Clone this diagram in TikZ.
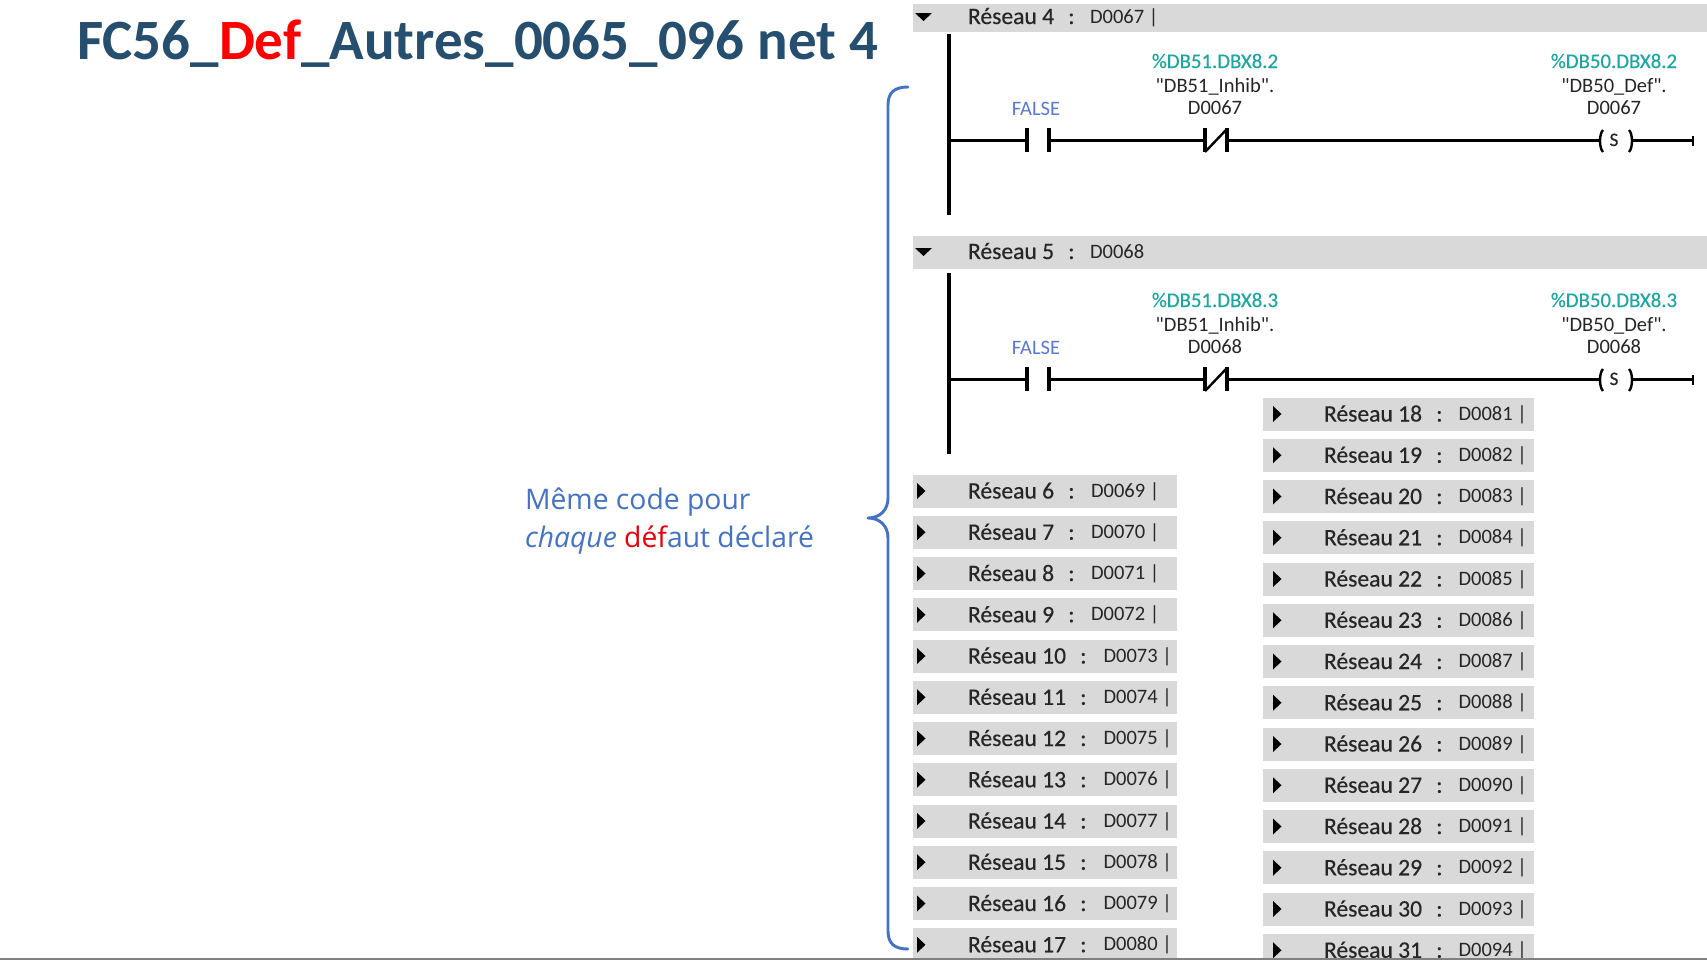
\documentclass[tikz,border=0pt]{standalone}
\usepackage{fontspec}
\setmainfont{Carlito}
\newfontfamily\opensansf{Open Sans}
\newfontfamily\carl{Carlito}
\newfontfamily\carlb[FakeBold=0.35]{Carlito}
\newcommand{\setpx}[1]{\pgfmathsetmacro{\ptsz}{#1*0.75}\fontsize{\ptsz pt}{\ptsz pt}\selectfont}
\definecolor{titleblue}{HTML}{264E6E}
\definecolor{annot}{HTML}{4472C4}
\definecolor{hdr}{HTML}{D9D9D9}
\definecolor{teal1}{HTML}{1CA8A0}
\definecolor{falseblue}{HTML}{5B78D8}
\definecolor{inktxt}{HTML}{262626}
\definecolor{defred}{HTML}{E8000B}
\tikzset{
 x=0.75pt,y=-0.75pt,
 txt/.style={inner sep=0pt,outer sep=0pt,text=inktxt},
 lbl/.style={txt,anchor=base west,font=\carlb\setpx{23.6}},
 codet/.style={txt,anchor=base west,font=\carl\setpx{20.5}},
 opnd/.style={txt,anchor=base,font=\carl\setpx{20.5}},
 addr/.style={txt,anchor=base,font=\carlb\setpx{20.8},text=teal1},
 wire/.style={draw=black,line width=2.3pt,line cap=butt},
 thinwire/.style={draw=black,line width=1.8pt,line cap=butt},
 tri/.style={fill=black,draw=none},
 brace/.style={draw=annot,line width=2.2pt,line cap=round,line join=round},
}
\newcommand{\colongap}{\hspace{0.6em}:}
\begin{document}
\begin{tikzpicture}
\useasboundingbox (0,0) rectangle (1707,960);
\fill[white] (0,0) rectangle (1707,960);

% title
\node[txt,anchor=base west,font=\setpx{57}\bfseries,text=titleblue] (title) at (77,59)
 {FC56\_\textcolor{red}{Def}\_Autres\_0065\_096 net 4};

% annotation
\node[txt,anchor=base west,font=\opensansf\setpx{28.3},text=annot] (ann1) at (525,509) {Même code pour};
\node[txt,anchor=base west,font=\opensansf\setpx{28.3},text=annot] (ann2) at (525,547)
 {\textit{chaque} \textcolor{defred}{déf}aut déclaré};

% brace
\draw[brace] (908,87) .. controls (895,87) and (888,92) .. (888,105) -- (888,498)
  .. controls (888,510) and (880,518) .. (868,518)
  .. controls (880,518) and (888,526) .. (888,538) -- (888,931)
  .. controls (888,944) and (895,949) .. (908,949);

% open networks: headers
\fill[hdr] (913,4) rectangle (1707,32);
\fill[hdr] (913,236) rectangle (1707,269);
\fill[tri] (915,13) -- (932,13) -- (923.5,21) -- cycle;
\fill[tri] (915,248) -- (932,248) -- (923.5,256) -- cycle;
\node[lbl] (h4) at (968,24) {Réseau 4\colongap};
\node[codet] (c4) at (1090,23) {D0067 |};
\node[lbl] (h5) at (968,259) {Réseau 5\colongap};
\node[codet] (c5) at (1090,258) {D0068};

% ladder rungs
\foreach \nm/\dy/\dd/\cd in {a/0/2/D0067,b/239/3/D0068}{
 \begin{scope}[yshift={-\dy*0.75pt}]
  \draw[wire] (949,34) -- (949,215);
  \draw[wire] (949,140.7) -- (1027,140.7);
  \draw[wire] (1027,128) -- (1027,152);
  \draw[wire] (1049,128) -- (1049,152);
  \draw[wire] (1049,140.7) -- (1205,140.7);
  \draw[wire] (1205,128) -- (1205,152);
  \draw[wire] (1227,128) -- (1227,152);
  \draw[thinwire] (1205,152) -- (1227,129);
  \draw[wire] (1227,140.7) -- (1600,140.7);
  \draw[thinwire] (1603,130) .. controls (1599,134) and (1599,148) .. (1603,152);
  \draw[thinwire] (1629,130) .. controls (1633,134) and (1633,148) .. (1629,152);
  \draw[wire] (1632,140.7) -- (1693,140.7);
  \draw[thinwire] (1693,136) -- (1693,145.5);
  \node[opnd,font=\carlb\setpx{19}] (s\nm) at (1614,146) {S};
  \node[opnd,text=falseblue] (f\nm) at (1036,115) {FALSE};
  \node[addr] (x\nm) at (1215,68) {\%DB51.DBX8.\dd};
  \node[opnd] (y\nm) at (1215,92) {"DB51\_Inhib".};
  \node[opnd] (z\nm) at (1215,114) {\cd};
  \node[addr] (u\nm) at (1614,68) {\%DB50.DBX8.\dd};
  \node[opnd] (v\nm) at (1614,92) {"DB50\_Def".};
  \node[opnd] (w\nm) at (1614,114) {\cd};
 \end{scope}
}

% collapsed networks, left column
\foreach \n in {6,...,17}{
 \pgfmathsetmacro{\yc}{491+41.25*(\n-6)}
 \pgfmathtruncatemacro{\cc}{\n+63}
 \pgfmathsetmacro{\xc}{\n<10 ? 1091 : 1103.5}
 \pgfmathsetmacro{\ybot}{min(\yc+16.5,960)}
 \fill[hdr] (913,\yc-16.5) rectangle (1177,\ybot);
 \fill[tri] (917,\yc-8) -- (925.5,\yc) -- (917,\yc+8) -- cycle;
 \node[lbl] (n\n) at (968,\yc+7.5) {Réseau \n\colongap};
 \node[codet] (d\n) at (\xc,\yc+6) {D00\cc\ |};
}
% collapsed networks, right column
\foreach \n in {18,...,31}{
 \pgfmathsetmacro{\yc}{414+41.25*(\n-18)}
 \pgfmathtruncatemacro{\cc}{\n+63}
 \pgfmathsetmacro{\ybot}{min(\yc+16.5,960)}
 \fill[hdr] (1262.5,\yc-16.5) rectangle (1534,\ybot);
 \fill[tri] (1273,\yc-8) -- (1281.5,\yc) -- (1273,\yc+8) -- cycle;
 \node[lbl] (n\n) at (1324,\yc+7.5) {Réseau \n\colongap};
 \node[codet] (d\n) at (1458.5,\yc+6) {D00\cc\ |};
}
% bottom edge
\fill[gray] (0,958) rectangle (1707,960);
\end{tikzpicture}
\end{document}
